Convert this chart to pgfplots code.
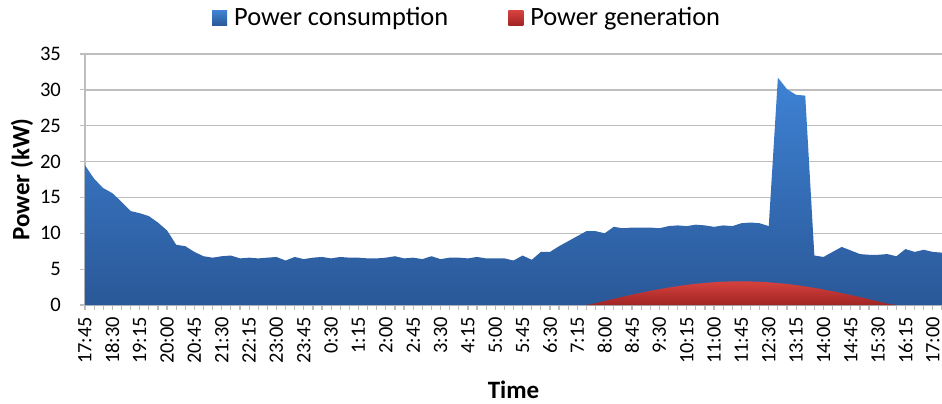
\documentclass[border=0pt]{standalone}
\usepackage{fontspec}
\setmainfont{Carlito}
\usepackage{pgfplots}
\pgfplotsset{compat=1.18}
\usepackage{pgfplotstable}

\definecolor{gridgray}{RGB}{190,190,190}
\definecolor{bluetop}{RGB}{62,130,212}
\definecolor{bluebot}{RGB}{42,88,152}
\definecolor{redtop}{RGB}{214,66,62}
\definecolor{redbot}{RGB}{160,36,36}

\pgfplotstableread{
i c
0 19.5
1 17.6
2 16.3
3 15.6
4 14.4
5 13.1
6 12.8
7 12.4
8 11.5
9 10.4
10 8.4
11 8.2
12 7.4
13 6.8
14 6.6
15 6.8
16 6.9
17 6.5
18 6.6
19 6.5
20 6.6
21 6.7
22 6.2
23 6.7
24 6.4
25 6.6
26 6.7
27 6.5
28 6.7
29 6.6
30 6.6
31 6.5
32 6.5
33 6.6
34 6.8
35 6.5
36 6.6
37 6.4
38 6.8
39 6.4
40 6.6
41 6.6
42 6.5
43 6.7
44 6.5
45 6.5
46 6.5
47 6.2
48 6.9
49 6.3
50 7.4
51 7.4
52 8.2
53 8.9
54 9.6
55 10.3
56 10.3
57 10.0
58 10.9
59 10.7
60 10.8
61 10.8
62 10.8
63 10.7
64 11.0
65 11.1
66 11.0
67 11.2
68 11.1
69 10.9
70 11.1
71 11.0
72 11.4
73 11.5
74 11.4
75 11.0
76 31.7
77 30.1
78 29.3
79 29.2
80 6.9
81 6.7
82 7.4
83 8.1
84 7.6
85 7.1
86 7.0
87 7.0
88 7.1
89 6.8
90 7.8
91 7.4
92 7.7
93 7.4
94 7.3
}\consumption

\pgfplotstableread{
i g
55 0
56 0.25
57 0.56
58 0.86
59 1.15
60 1.44
61 1.71
62 1.97
63 2.21
64 2.43
65 2.63
66 2.80
67 2.96
68 3.08
69 3.18
70 3.25
71 3.29
72 3.30
73 3.28
74 3.24
75 3.16
76 3.06
77 2.93
78 2.77
79 2.59
80 2.39
81 2.16
82 1.92
83 1.66
84 1.38
85 1.10
86 0.80
87 0.50
88 0.19
89 0
}\generation

\begin{document}
\begin{tikzpicture}
\begin{axis}[
  at={(42.5pt,49pt)}, anchor=south west,
  scale only axis, width=428.5pt, height=125.5pt,
  xmin=0, xmax=94, ymin=0, ymax=35,
  axis x line*=bottom, axis y line*=left,
  axis line style={draw=gridgray, line width=0.7pt, -},
  ytick={0,5,...,35},
  xtick={0,3,...,93},
  xticklabels={17:45,18:30,19:15,20:00,20:45,21:30,22:15,23:00,23:45,0:30,1:15,2:00,2:45,3:30,4:15,5:00,5:45,6:30,7:15,8:00,8:45,9:30,10:15,11:00,11:45,12:30,13:15,14:00,14:45,15:30,16:15,17:00},
  minor xtick={0,...,94},
  tick align=outside,
  major tick length=2.5pt, minor tick length=2.5pt,
  tick style={draw=gridgray, line width=0.6pt},
  ymajorgrids,
  grid style={draw=gridgray, line width=0.75pt},
  /pgf/number format/assume math mode=true,
  ticklabel style={font=\fontsize{10.2}{11}\selectfont},
  yticklabel style={font=\fontsize{10.3}{11}\selectfont, xshift=-6pt},
  xticklabel style={rotate=90, anchor=east},
  xlabel={\textbf{Time}},
  xlabel style={at={(axis description cs:0.5,0)}, anchor=base, yshift=-46.5pt, font=\fontsize{12.5}{14}\selectfont},
  ylabel={\textbf{Power (kW)}},
  ylabel style={at={(axis description cs:-0.0735,0.5)}, anchor=center, font=\fontsize{12.5}{14}\selectfont},
  legend style={at={(axis description cs:0.447,1.143)}, anchor=center, legend columns=2, draw=none, fill=none,
    font=\fontsize{13.2}{15}\selectfont,
    /tikz/every even column/.append style={column sep=28pt}},
  legend image code/.code={\path[#1] (0pt,-3.75pt) rectangle (7.5pt,3.75pt);},
  clip=true,
]
\addplot[draw=none, top color=bluetop, bottom color=bluebot] table[x=i, y=c] {\consumption} \closedcycle;
\addlegendentry{\hspace{1.5pt}Power consumption}
\addplot[draw=none, top color=redtop, bottom color=redbot] table[x=i, y=g] {\generation} \closedcycle;
\addlegendentry{\hspace{1.5pt}Power generation}
\end{axis}
\pgfresetboundingbox
\path[use as bounding box] (0,0) rectangle (471pt,201.5pt);
\end{tikzpicture}
\end{document}
